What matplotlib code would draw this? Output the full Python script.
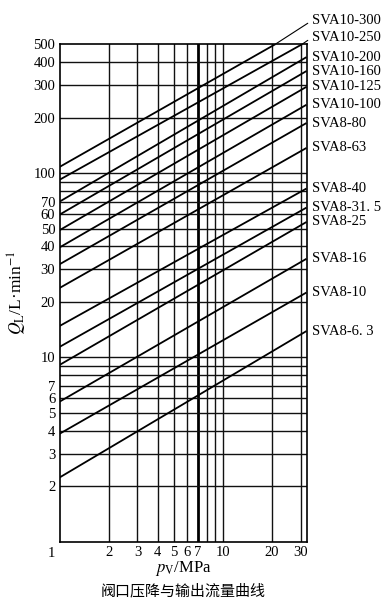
import matplotlib
matplotlib.use("Agg")
import matplotlib.pyplot as plt
from matplotlib.ticker import FixedLocator, NullLocator, NullFormatter

plt.rcParams['font.family'] = ['Liberation Serif', 'Noto Sans CJK SC', 'DejaVu Sans']
plt.rcParams['mathtext.fontset'] = 'stix'

# ---- data ----
series_names = ['SVA10-300', 'SVA10-250', 'SVA10-200', 'SVA10-160', 'SVA10-125',
                'SVA10-100', 'SVA8-80', 'SVA8-63', 'SVA8-40', 'SVA8-31. 5',
                'SVA8-25', 'SVA8-16', 'SVA8-10', 'SVA8-6. 3']
p_start = [1, 1, 1, 1, 1, 1, 1, 1, 1, 1, 1, 1, 1, 1]
q_start = [108, 92, 70, 59.5, 49, 39.5, 32, 23.8, 14.8, 11.4, 9.1, 5.75, 3.85, 2.23]
p_end = [20.9, 30.5, 32.5, 32.5, 32.5, 32.5, 32.5, 32.5, 32.5, 32.5, 32.5, 32.5, 32.5, 32.5]
q_end = [500, 500, 426, 358, 294, 235, 187, 137, 82.5, 65, 54.3, 34.3, 22.5, 13.9]

x_grid = [2, 3, 4, 5, 6, 8, 9, 10, 20, 30]
x_thick = [7]
x_ticklabels = [2, 3, 4, 5, 6, 7, 10, 20, 30]
y_grid = [2, 3, 4, 5, 6, 7, 8, 9, 10, 20, 30, 40, 50, 60, 70, 80, 90, 100, 200, 300, 400]
y_ticklabels = [2, 3, 4, 5, 6, 7, 10, 20, 30, 40, 50, 60, 70, 100, 200, 300, 400, 500]

XMIN, XMAX = 1, 32.5
YMIN, YMAX = 1, 500

fig = plt.figure(figsize=(3.9, 6.11), dpi=100)
ax = fig.add_axes([0.1526, 0.1134, 0.6333, 0.8141])
ax.set_xscale('log')
ax.set_yscale('log')
ax.set_xlim(XMIN, XMAX)
ax.set_ylim(YMIN, YMAX)

for xv in x_grid:
    ax.axvline(xv, color='#111111', lw=1.0, zorder=1)
for xv in x_thick:
    ax.axvline(xv, color='black', lw=2.0, zorder=1)
for yv in y_grid:
    ax.axhline(yv, color='#111111', lw=1.0, zorder=1)

for sp in ax.spines.values():
    sp.set_linewidth(1.2)
    sp.set_color('black')

ax.xaxis.set_major_locator(FixedLocator(x_ticklabels))
ax.xaxis.set_minor_locator(NullLocator())
ax.xaxis.set_minor_formatter(NullFormatter())
ax.set_xticklabels([str(v) for v in x_ticklabels])
ax.yaxis.set_major_locator(FixedLocator(y_ticklabels))
ax.yaxis.set_minor_locator(NullLocator())
ax.yaxis.set_minor_formatter(NullFormatter())
ax.set_yticklabels([str(v) for v in y_ticklabels])
ax.tick_params(axis='both', which='both', length=0, labelsize=10.5, pad=3)

# corner "1" label
ax.annotate('1', xy=(1, 1), xycoords='data', xytext=(-6, -4), textcoords='offset points',
            ha='center', va='top', fontsize=10.5)

label_positions = {0: (1.021, 1.0474), 1: (1.021, 1.0133)}

for i, name in enumerate(series_names):
    ax.plot([p_start[i], p_end[i]], [q_start[i], q_end[i]], color='black', lw=1.3,
            solid_capstyle='butt', zorder=3)
    if i in label_positions:
        ax.annotate(name, xy=(p_end[i], q_end[i]), xycoords='data',
                    xytext=label_positions[i], textcoords='axes fraction',
                    ha='left', va='center', fontsize=10.5, annotation_clip=False,
                    arrowprops=dict(arrowstyle='-', lw=0.8, color='black',
                                    shrinkA=1, shrinkB=0, relpos=(0, 0.5)))
    else:
        ax.annotate(name, xy=(p_end[i], q_end[i]), xycoords='data',
                    xytext=(4, 0), textcoords='offset points',
                    ha='left', va='center', fontsize=10.5, annotation_clip=False)

ax.set_xlabel(r'$p_{\rm V}$/MPa', fontsize=12, labelpad=0)
ax.set_ylabel(r'$Q_{\rm L}$/L·min$^{-1}$', fontsize=12.5, labelpad=3)

fig.text(0.469, 0.033, '阀口压降与输出流量曲线', ha='center', va='center',
         fontsize=10.8, family=['Noto Sans CJK SC', 'DejaVu Sans'])

fig.savefig('out.png', dpi=100)
